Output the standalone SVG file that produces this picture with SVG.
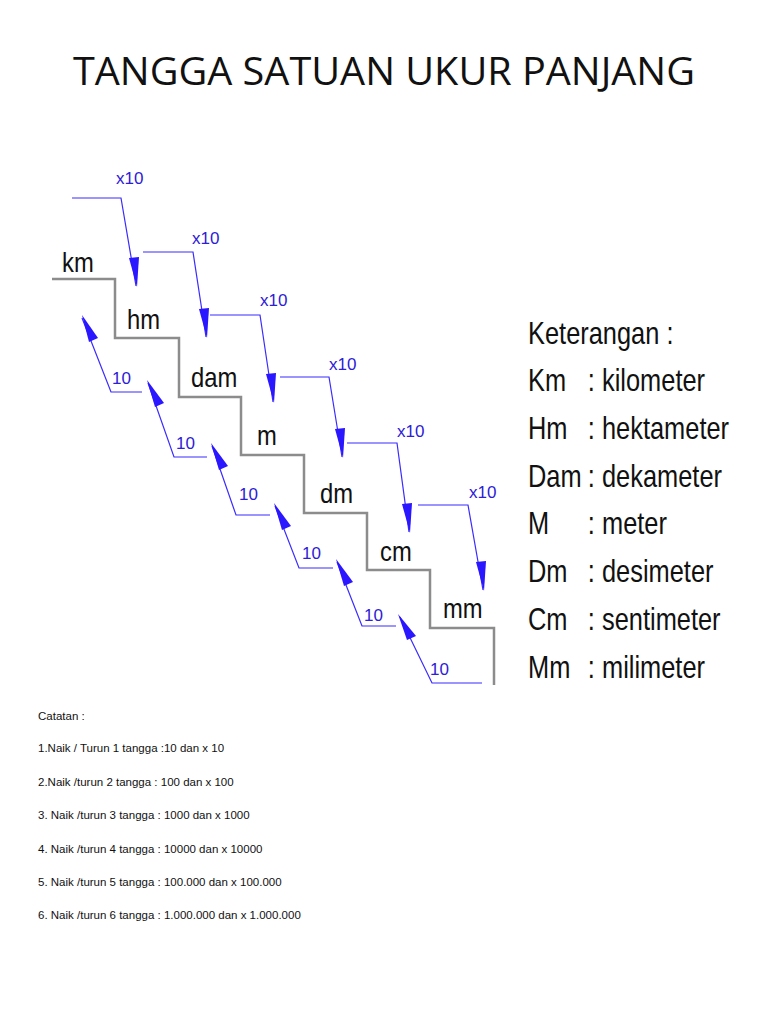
<svg xmlns="http://www.w3.org/2000/svg" width="768" height="1024" viewBox="0 0 768 1024">
<defs>
<style>
.st{fill:none;stroke:#8c8c8c;stroke-width:2.5}
.bl{fill:none;stroke:#3a2bff;stroke-width:1.2}
.bt{font-family:"Liberation Sans",Arial,sans-serif;font-size:17px;fill:#2d20d8}
.lb{font-family:"Liberation Sans",Arial,sans-serif;font-size:28px;fill:#111}
.kt{font-family:"Liberation Sans",Arial,sans-serif;font-size:31px;fill:#111}
.nt{font-family:"Liberation Sans",Arial,sans-serif;font-size:11.5px;fill:#111}
</style>
<marker id="ah" viewBox="0 0 10 10" refX="10" refY="5" markerWidth="8" markerHeight="14" markerUnits="userSpaceOnUse" orient="auto" overflow="visible"><path d="M0,0 L10,5 L0,10 L0,0 Z" transform="scale(3.2,1.2) translate(-6.8,-0.8)" fill="#2a16ff"/></marker>
</defs>
<rect width="768" height="1024" fill="#fff"/>
<text x="384" y="85" text-anchor="middle" font-family="'Open Sans','Liberation Sans',sans-serif" font-size="39" fill="#111" textLength="622" lengthAdjust="spacingAndGlyphs">TANGGA SATUAN UKUR PANJANG</text>
<g id="stairs">
<path class="st" d="M52,279 H115 V338 H179 V397 H241 V455 H304 V513 H367 V570 H430 V628 H494 V685"/>
</g>
<g id="units">
<text class="lb" x="62" y="272" transform="translate(62 272) scale(0.85 1) translate(-62 -272)">km</text>
<text class="lb" x="127" y="329" transform="translate(127 329) scale(0.85 1) translate(-127 -329)">hm</text>
<text class="lb" x="191" y="387" transform="translate(191 387) scale(0.85 1) translate(-191 -387)">dam</text>
<text class="lb" x="257" y="445" transform="translate(257 445) scale(0.85 1) translate(-257 -445)">m</text>
<text class="lb" x="320" y="503" transform="translate(320 503) scale(0.85 1) translate(-320 -503)">dm</text>
<text class="lb" x="380" y="561" transform="translate(380 561) scale(0.85 1) translate(-380 -561)">cm</text>
<text class="lb" x="443" y="618" transform="translate(443 618) scale(0.85 1) translate(-443 -618)">mm</text>
</g>
<g id="connectors">
<g id="down">
<path class="bl" d="M72,198 H121 L136,286"/><polygon points="129,258 139,257 137,287" fill="#2a16ff"/>
<path class="bl" d="M143,252 H193 L206,337"/><polygon points="199,309 209,308 207,338" fill="#2a16ff"/>
<path class="bl" d="M210,315 H260 L273,402"/><polygon points="266,374 276,373 274,403" fill="#2a16ff"/>
<path class="bl" d="M280,377 H329 L342,457"/><polygon points="335,429 345,428 343,458" fill="#2a16ff"/>
<path class="bl" d="M347,443 H397 L409,532"/><polygon points="402,504 412,503 410,533" fill="#2a16ff"/>
<path class="bl" d="M418,505 H468 L483,590"/><polygon points="476,562 486,561 484,591" fill="#2a16ff"/>
</g>
<g id="up">
<path class="bl" d="M142,392 H111 L82,318"/><polygon points="82,315 98,338 89,342" fill="#2a16ff"/>
<path class="bl" d="M207,457 H174 L148,383"/><polygon points="147,380 164,403 155,407" fill="#2a16ff"/>
<path class="bl" d="M270,515 H236 L212,446"/><polygon points="211,443 228,466 219,470" fill="#2a16ff"/>
<path class="bl" d="M333,568 H299 L275,506"/><polygon points="274,503 291,526 282,530" fill="#2a16ff"/>
<path class="bl" d="M396,626 H362 L337,562"/><polygon points="336,559 353,582 344,586" fill="#2a16ff"/>
<path class="bl" d="M482,683 H432 L400,617"/><polygon points="398,614 416,636 407,640" fill="#2a16ff"/>
</g>
</g>
<g id="labels">
<text class="bt" x="116" y="184">x10</text>
<text class="bt" x="192" y="244">x10</text>
<text class="bt" x="260" y="306">x10</text>
<text class="bt" x="329" y="370">x10</text>
<text class="bt" x="397" y="437">x10</text>
<text class="bt" x="469" y="498">x10</text>
<text class="bt" x="112" y="384">10</text>
<text class="bt" x="176" y="449">10</text>
<text class="bt" x="239" y="500">10</text>
<text class="bt" x="302" y="559">10</text>
<text class="bt" x="364" y="621">10</text>
<text class="bt" x="430" y="675">10</text>
</g>
<g id="legend" class="kt" transform="translate(528 0) scale(0.82 1)">
<text x="0" y="344">Keterangan :</text>
<text x="0" y="391">Km</text><text x="73" y="391">: kilometer</text>
<text x="0" y="439">Hm</text><text x="73" y="439">: hektameter</text>
<text x="0" y="487">Dam</text><text x="73" y="487">: dekameter</text>
<text x="0" y="534">M</text><text x="73" y="534">: meter</text>
<text x="0" y="582">Dm</text><text x="73" y="582">: desimeter</text>
<text x="0" y="630">Cm</text><text x="73" y="630">: sentimeter</text>
<text x="0" y="678">Mm</text><text x="73" y="678">: milimeter</text>
</g>
<g id="notes" class="nt">
<text x="38" y="720">Catatan :</text>
<text x="38" y="752">1.Naik / Turun 1 tangga :10 dan x 10</text>
<text x="38" y="786">2.Naik /turun 2 tangga  : 100 dan x 100</text>
<text x="38" y="819">3. Naik /turun 3 tangga  : 1000 dan x 1000</text>
<text x="38" y="853">4. Naik /turun 4 tangga  : 10000 dan x 10000</text>
<text x="38" y="886">5. Naik /turun 5 tangga  : 100.000 dan x 100.000</text>
<text x="38" y="919">6. Naik /turun 6 tangga  : 1.000.000 dan x 1.000.000</text>
</g>
</svg>
